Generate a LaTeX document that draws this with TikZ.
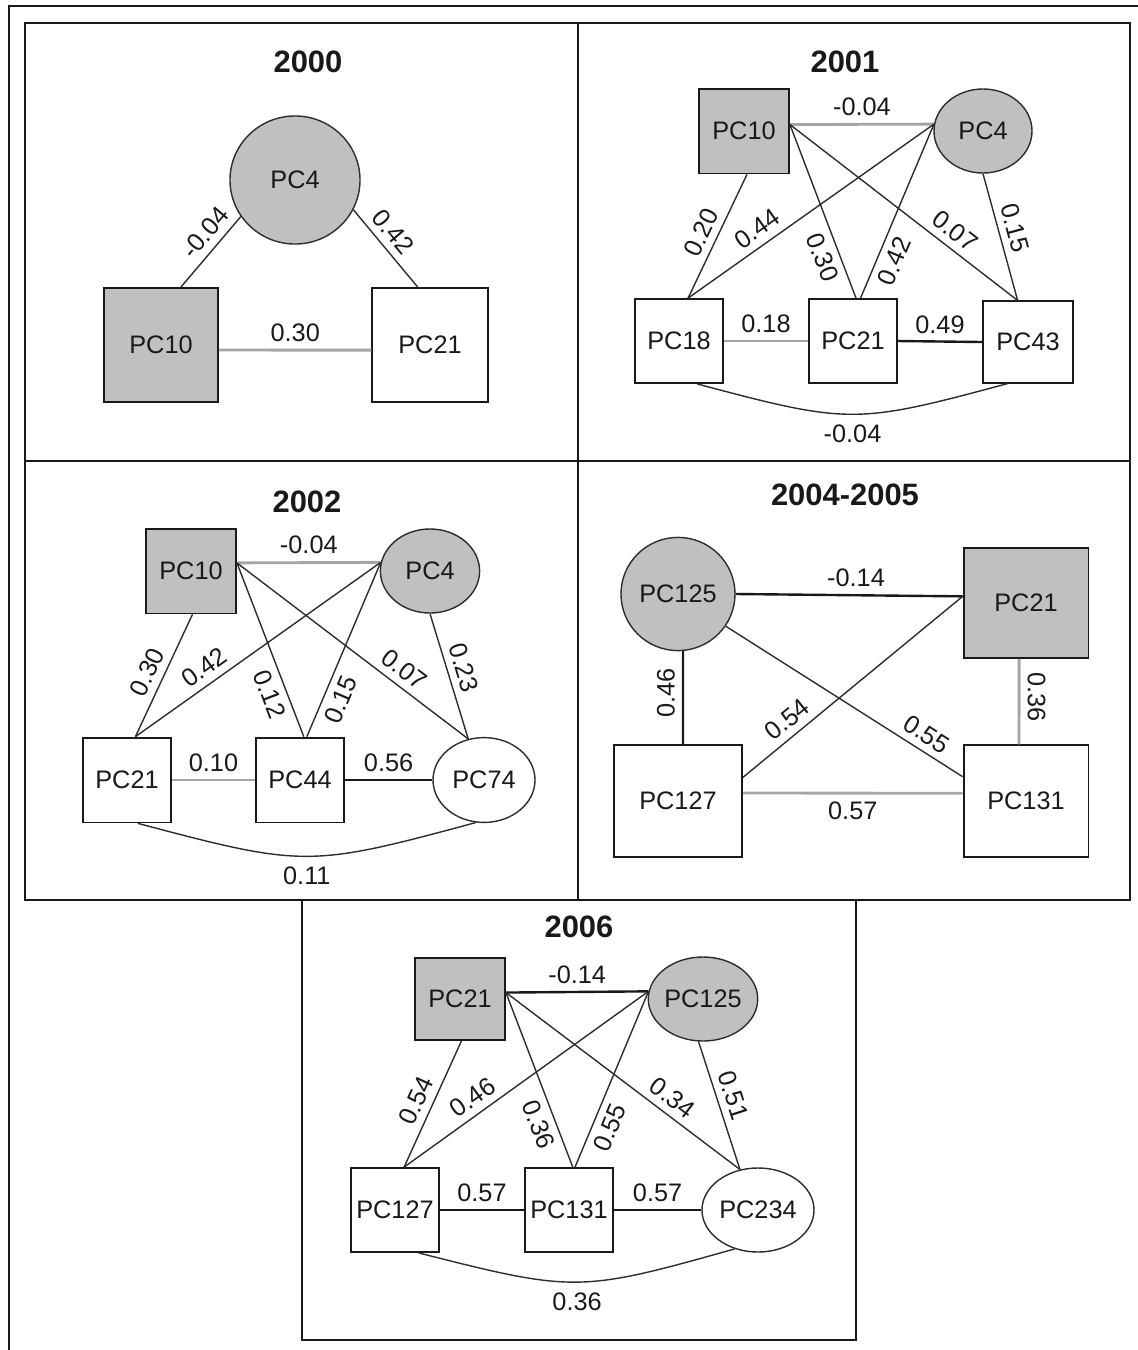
\documentclass[tikz,border=0pt]{standalone}
\usepackage{fontspec}
\setmainfont{Liberation Sans}
\usepackage{tikz}
\usetikzlibrary{shapes.geometric}
\usepackage{xcolor}
\definecolor{NodeGrey}{RGB}{192,192,192}
\definecolor{LinkGrey}{RGB}{165,165,165}
\definecolor{LinkDark}{RGB}{45,45,45}
\definecolor{InkBlack}{RGB}{25,25,25}
\tikzset{
  pcbox/.style={draw=InkBlack, fill=white, line width=1.3pt, inner sep=0pt,
    minimum width=2.2cm, minimum height=2.1cm, text=InkBlack,
    font=\fontsize{18}{21}\selectfont},
  pcboxgray/.style={pcbox, fill=NodeGrey},
  pcoval/.style={ellipse, draw=LinkDark, fill=white, line width=1pt, inner sep=0pt,
    minimum width=2.45cm, minimum height=2.1cm, text=InkBlack,
    font=\fontsize{18}{21}\selectfont},
  pcovalgray/.style={pcoval, fill=NodeGrey},
  link/.style={draw=LinkDark, line width=1pt},
  greylink/.style={draw=LinkGrey, line width=2pt},
  heavylink/.style={draw=InkBlack, line width=1.7pt},
  weight/.style={font=\fontsize{18}{21}\selectfont, text=InkBlack, inner sep=5pt},
  panel/.style={draw=InkBlack, line width=1.4pt},
  paneltitle/.style={font=\bfseries\fontsize{22}{26}\selectfont, text=InkBlack}
}

\begin{document}
\begin{tikzpicture}[x=0.025cm, y=-0.025cm]
  \useasboundingbox (0,0) rectangle (1138,1350);

  \draw[panel] (9,1350) -- (9,6) -- (1138,6);
  \draw[panel] (25,23) rectangle (1130,900);
  \draw[panel] (578,23) -- (578,900);
  \draw[panel] (25,461) -- (1130,461);
  \draw[panel] (302,900) rectangle (856,1340);

  % 2000
  \node[paneltitle] (t2000) at (308,62) {2000};
  \node[pcovalgray, minimum width=3.25cm, minimum height=3.2cm] (p4) at (295,180) {PC4};
  \node[pcboxgray, minimum width=2.85cm, minimum height=2.85cm] (p10) at (161,345) {PC10};
  \node[pcbox, minimum width=2.88cm, minimum height=2.85cm] (p21) at (430,345) {PC21};
  \draw[link] (p4.214) -- node[weight, pos=0.38, sloped, above] {-0.04} (p10.71);
  \draw[link] (p4.-27) -- node[weight, pos=0.42, sloped, above] {0.42} (p21.102);
  \draw[greylink] (p10.-5) -- node[weight, above] {0.30} (p21.185);

  % 2001
  \node[paneltitle] (t2001) at (845,62) {2001};
  \node[pcboxgray, minimum width=2.25cm, minimum height=2.12cm] (a10) at (744,131) {PC10};
  \node[pcovalgray] (a4) at (983,131) {PC4};
  \node[pcbox] (a18) at (679,341) {PC18};
  \node[pcbox] (a21) at (853,341) {PC21};
  \node[pcbox, minimum width=2.25cm, minimum height=2.03cm] (a43) at (1028,342) {PC43};
  \draw[greylink] (a10.8) -- node[weight, above] {-0.04} (a4.172);
  \draw[link] (a10.-86) -- node[weight, pos=0.53, sloped, above] {0.20} (a18.78);
  \draw[link] (a10.8) -- node[weight, pos=0.73, sloped, below] {0.30} (a21.86);
  \draw[link] (a10.8) -- node[weight, pos=0.68, sloped, above] {0.07} (a43.104);
  \draw[link] (a4.172) -- node[weight, pos=0.68, sloped, above] {0.44} (a18.78);
  \draw[link] (a4.172) -- node[weight, pos=0.75, sloped, below] {0.42} (a21.80);
  \draw[link] (a4.south) -- node[weight, pos=0.46, sloped, above] {0.15} (a43.104);
  \draw[greylink] (a18.east) -- node[weight, above] {0.18} (a21.west);
  \draw[heavylink] (a21.east) -- node[weight, above] {0.49} (a43.west);
  \draw[link] (a18.-67) to[bend right=15, looseness=1.3]
    node[weight, below=2pt] {-0.04} (a43.-116);

  % 2002
  \node[paneltitle] (t2002) at (307,502) {2002};
  \node[pcboxgray, minimum width=2.25cm, minimum height=2.12cm] (b10) at (191,571) {PC10};
  \node[pcovalgray, minimum width=2.48cm] (b4) at (430,571) {PC4};
  \node[pcbox, minimum height=2.12cm] (b21) at (127,780) {PC21};
  \node[pcbox, minimum height=2.12cm] (b44) at (300,780) {PC44};
  \node[pcoval, minimum width=2.55cm, minimum height=2.12cm] (b74) at (484,780) {PC74};
  \draw[greylink] (b10.10) -- node[weight, above] {-0.04} (b4.170);
  \draw[link] (b10.-88) -- node[weight, pos=0.53, sloped, above] {0.30} (b21.79);
  \draw[link] (b10.10) -- node[weight, pos=0.72, sloped, below] {0.12} (b44.85);
  \draw[link] (b10.10) -- node[weight, pos=0.68, sloped, above] {0.07} (b74.111);
  \draw[link] (b4.170) -- node[weight, pos=0.68, sloped, above] {0.42} (b21.79);
  \draw[link] (b4.170) -- node[weight, pos=0.75, sloped, below] {0.15} (b44.81);
  \draw[link] (b4.south) -- node[weight, pos=0.47, sloped, above] {0.23} (b74.111);
  \draw[greylink] (b21.east) -- node[weight, above] {0.10} (b44.west);
  \draw[heavylink] (b44.east) -- node[weight, above] {0.56} (b74.west);
  \draw[link] (b21.-76) to[bend right=15, looseness=1.3]
    node[weight, below=2pt] {0.11} (b74.-101);

  % 2004-2005
  \node[paneltitle] (t2004) at (845,495) {2004-2005};
  \node[pcovalgray, minimum width=2.85cm, minimum height=2.83cm] (c125) at (678,594) {PC125};
  \node[pcboxgray, minimum width=3.12cm, minimum height=2.75cm] (c21) at (1026,603) {PC21};
  \node[pcbox, minimum width=3.2cm, minimum height=2.78cm] (c127) at (678,801) {PC127};
  \node[pcbox, minimum width=3.12cm, minimum height=2.78cm] (c131) at (1026,801) {PC131};
  \draw[heavylink] (c125.east) -- node[weight, above, pos=0.53] {-0.14} (c21.174);
  \draw[heavylink] (c127.85) -- node[weight, pos=0.55, rotate=90, anchor=south] {0.46} (c125.-85);
  \draw[greylink] (c21.-97) -- node[weight, pos=0.45, rotate=-90, anchor=south] {0.36} (c131.97);
  \draw[link] (c21.174) -- node[weight, pos=0.75, sloped, above] {0.54} (c127.20);
  \draw[link] (c125.-34) -- node[weight, pos=0.81, sloped, above] {0.55} (c131.159);
  \draw[greylink] (c127.7) -- node[weight, below] {0.57} (c131.173);

  % 2006
  \node[paneltitle] (t2006) at (579,927) {2006};
  \node[pcboxgray, minimum width=2.25cm, minimum height=2.05cm] (d21) at (460,999) {PC21};
  \node[pcovalgray, minimum width=2.72cm] (d125) at (703,999) {PC125};
  \node[pcbox] (d127) at (395,1210) {PC127};
  \node[pcbox] (d131) at (569,1210) {PC131};
  \node[pcoval, minimum width=2.8cm] (d234) at (758,1210) {PC234};
  \draw[heavylink] (d21.8) -- node[weight, above] {-0.14} (d125.172);
  \draw[link] (d21.-88) -- node[weight, pos=0.53, sloped, above] {0.54} (d127.78);
  \draw[link] (d21.8) -- node[weight, pos=0.72, sloped, below] {0.36} (d131.85);
  \draw[link] (d21.8) -- node[weight, pos=0.67, sloped, above] {0.34} (d234.114);
  \draw[link] (d125.172) -- node[weight, pos=0.68, sloped, above] {0.46} (d127.78);
  \draw[link] (d125.172) -- node[weight, pos=0.74, sloped, below] {0.55} (d131.82);
  \draw[link] (d125.-96) -- node[weight, pos=0.46, sloped, above] {0.51} (d234.114);
  \draw[heavylink] (d127.east) -- node[weight, above] {0.57} (d131.west);
  \draw[heavylink] (d131.east) -- node[weight, above] {0.57} (d234.west);
  \draw[link] (d127.-61) to[bend right=15, looseness=1.3]
    node[weight, below=2pt] {0.36} (d234.-121);
\end{tikzpicture}
\end{document}
